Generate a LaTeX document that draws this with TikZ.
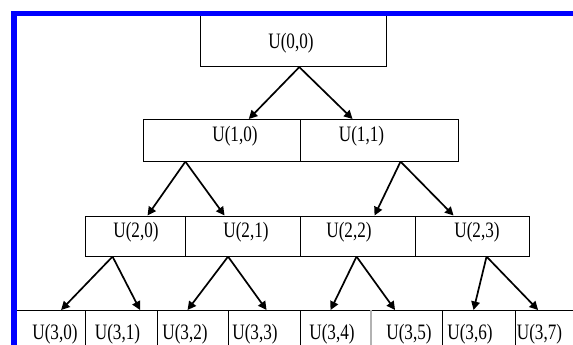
\documentclass[tikz,border=0pt]{standalone}
\usepackage{fontspec}
\setmainfont{Liberation Serif}[FakeStretch=0.78]
\usetikzlibrary{arrows.meta}
\begin{document}
\begin{tikzpicture}[x=1pt,y=-1pt,
  box/.style={draw=black, line width=1.1pt, inner sep=0pt, anchor=north west},
  lbl/.style={font=\fontsize{22}{22}\selectfont, inner sep=0pt, anchor=center},
  arr/.style={draw=black, line width=1.7pt, -{Triangle[length=8.5pt,width=8.5pt]}},
  frame/.style={draw={rgb,255:red,0;green,0;blue,255}, line width=5.5pt}]
\useasboundingbox (0,0) rectangle (573,345);
\fill[white] (0,0) rectangle (573,345);
\clip (0,0) rectangle (573,345);
% level 0
\node[box, minimum width=186.5pt, minimum height=55pt] (b00) at (199.5,11) {};
% level 1
\node[box, minimum width=157.5pt, minimum height=41.5pt] (b10) at (142.5,119) {};
\node[box, minimum width=158pt, minimum height=41.5pt] (b11) at (300,119) {};
% level 2
\node[box, minimum width=100pt, minimum height=40pt] (b20) at (85,215.5) {};
\node[box, minimum width=115pt, minimum height=40pt] (b21) at (185,215.5) {};
\node[box, minimum width=115pt, minimum height=40pt] (b22) at (300,215.5) {};
\node[box, minimum width=113.5pt, minimum height=40pt] (b23) at (415,215.5) {};
% level 3
\node[box, minimum width=71.25pt, minimum height=70pt] (c0) at (13.75,310) {};
\node[box, minimum width=72pt, minimum height=70pt] (c1) at (85,310) {};
\node[box, minimum width=71pt, minimum height=70pt] (c2) at (157,310) {};
\node[box, minimum width=72pt, minimum height=70pt] (c3) at (228,310) {};
\node[box, minimum width=71pt, minimum height=70pt] (c4) at (300,310) {};
\node[box, minimum width=71pt, minimum height=70pt] (c5) at (371,310) {};
\node[box, minimum width=72.5pt, minimum height=70pt] (c6) at (442,310) {};
\node[box, minimum width=85.5pt, minimum height=70pt] (c7) at (514.5,310) {};
\draw[gray!60, line width=1.1pt] (c5.north west) -- (c5.south west);
% labels
\node[lbl] (t00) at (291,43) {U(0,0)};
\node[lbl] (t10) at (235,136.5) {U(1,0)};
\node[lbl] (t11) at (361.5,136.5) {U(1,1)};
\node[lbl] (t20) at (136,232) {U(2,0)};
\node[lbl] (t21) at (246,232) {U(2,1)};
\node[lbl] (t22) at (349,232) {U(2,2)};
\node[lbl] (t23) at (477,232) {U(2,3)};
\node[lbl] (t30) at (55,334.5) {U(3,0)};
\node[lbl] (t31) at (117.5,334.5) {U(3,1)};
\node[lbl] (t32) at (185,334.5) {U(3,2)};
\node[lbl] (t33) at (255,334.5) {U(3,3)};
\node[lbl] (t34) at (332,334.5) {U(3,4)};
\node[lbl] (t35) at (409,334.5) {U(3,5)};
\node[lbl] (t36) at (470,334.5) {U(3,6)};
\node[lbl] (t37) at (539.5,334.5) {U(3,7)};
% connectors
\draw[arr] ([xshift=6pt]b00.south) -- ([xshift=27pt]b10.north);
\draw[arr] ([xshift=6pt]b00.south) -- ([xshift=-27pt]b11.north);
\draw[arr] ([xshift=-36.4pt]b10.south) -- ([xshift=12pt]b20.north);
\draw[arr] ([xshift=-36.4pt]b10.south) -- ([xshift=-18.5pt]b21.north);
\draw[arr] ([xshift=21pt]b11.south) -- ([xshift=16.5pt]b22.north);
\draw[arr] ([xshift=21pt]b11.south) -- ([xshift=-18.75pt]b23.north);
\draw[arr] ([xshift=-23pt]b20.south) -- ([xshift=11.2pt]c0.north);
\draw[arr] ([xshift=-23pt]b20.south) -- ([xshift=18.5pt]c1.north);
\draw[arr] ([xshift=-15pt]b21.south) -- ([xshift=-5.5pt]c2.north);
\draw[arr] ([xshift=-15pt]b21.south) -- ([xshift=2pt]c3.north);
\draw[arr] ([xshift=-1.5pt]b22.south) -- ([xshift=-5.5pt]c4.north);
\draw[arr] ([xshift=-1.5pt]b22.south) -- ([xshift=-12pt]c5.north);
\draw[arr] ([xshift=14.25pt]b23.south) -- ([xshift=-5.25pt]c6.north);
\draw[arr] ([xshift=14.25pt]b23.south) -- ([xshift=-19.7pt]c7.north);
% blue frame
\draw[frame] (573,13.75) -- (13.75,13.75) -- (13.75,345);
\end{tikzpicture}
\end{document}
